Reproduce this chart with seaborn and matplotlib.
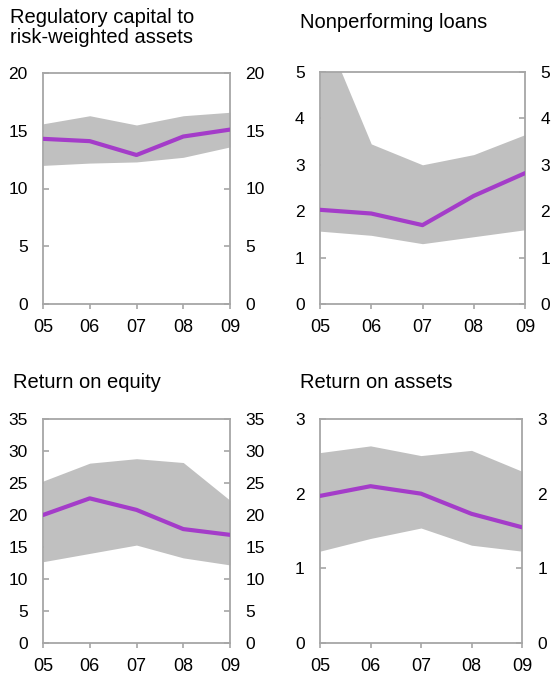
import matplotlib
matplotlib.use("Agg")
import matplotlib.pyplot as plt
import seaborn as sns
import pandas as pd

years = [2005, 2006, 2007, 2008, 2009]
year_labels = ["05", "06", "07", "08", "09"]

# Regulatory capital to risk-weighted assets
cap_median = [14.3, 14.1, 12.9, 14.5, 15.1]
cap_high = [15.6, 16.3, 15.5, 16.3, 16.6]
cap_low = [12.0, 12.2, 12.3, 12.7, 13.6]

# Nonperforming loans
npl_median = [2.03, 1.95, 1.70, 2.33, 2.82]
npl_high = [6.1, 3.45, 3.0, 3.22, 3.65]
npl_low = [1.57, 1.48, 1.30, 1.45, 1.60]

# Return on equity
roe_median = [20.0, 22.6, 20.8, 17.8, 16.9]
roe_high = [25.3, 28.1, 28.8, 28.2, 22.3]
roe_low = [12.7, 14.0, 15.3, 13.3, 12.2]

# Return on assets
roa_median = [1.97, 2.10, 2.00, 1.73, 1.55]
roa_high = [2.55, 2.64, 2.51, 2.58, 2.30]
roa_low = [1.23, 1.40, 1.54, 1.31, 1.23]

sns.set_style("white")
plt.rcParams["font.family"] = ["Liberation Sans", "DejaVu Sans"]
plt.rcParams["text.color"] = "black"
plt.rcParams["xtick.labelcolor"] = "black"
plt.rcParams["ytick.labelcolor"] = "black"

W, H = 551, 677
fig = plt.figure(figsize=(W / 100, H / 100), dpi=100)

def px_axes(left, top, right, bottom):
    return fig.add_axes([left / W, 1 - bottom / H, (right - left) / W, (bottom - top) / H])

panels = [
    # (title, x, top y, median, high, low, ymax, step, box)
    ("Regulatory capital to\nrisk-weighted assets", 10, 8, cap_median, cap_high, cap_low, 20, 5, (43, 73, 230, 304)),
    ("Nonperforming loans", 300, 13, npl_median, npl_high, npl_low, 5, 1, (320, 72, 525, 304)),
    ("Return on equity", 13, 373, roe_median, roe_high, roe_low, 35, 5, (43, 419, 230, 643)),
    ("Return on assets", 300, 373, roa_median, roa_high, roa_low, 3, 1, (320, 419, 522, 643)),
]

for title, tx, ty, med, hi, lo, ymax, step, box in panels:
    ax = px_axes(*box)
    df = pd.DataFrame({"Year": years, "Median": med})
    ax.fill_between(years, lo, hi, color="#c0c0c0", linewidth=0, zorder=1)
    sns.lineplot(data=df, x="Year", y="Median", color="#a43cc9", linewidth=3, ax=ax, zorder=3)
    ax.set_xlim(2005, 2009)
    ax.set_ylim(0, ymax)
    ax.set_xticks(years)
    ax.set_xticklabels(year_labels)
    ax.set_yticks(range(0, ymax + 1, step))
    ax.set_xlabel("")
    ax.set_ylabel("")
    for s in ax.spines.values():
        s.set_color("#a6a6a6")
        s.set_linewidth(1.3)
    ax.tick_params(axis="y", direction="in", length=4, width=1.2, color="#a6a6a6",
                   left=True, right=True, labelleft=True, labelright=True,
                   labelsize=12.5, pad=11)
    ax.tick_params(axis="x", direction="out", length=3.5, width=1.2, color="#a6a6a6",
                   bottom=True, labelsize=13, pad=7)
    fig.text(tx / W, 1 - ty / H, title, fontsize=14.5, ha="left", va="top",
             linespacing=1.05)

fig.savefig("out.png", dpi=100)
